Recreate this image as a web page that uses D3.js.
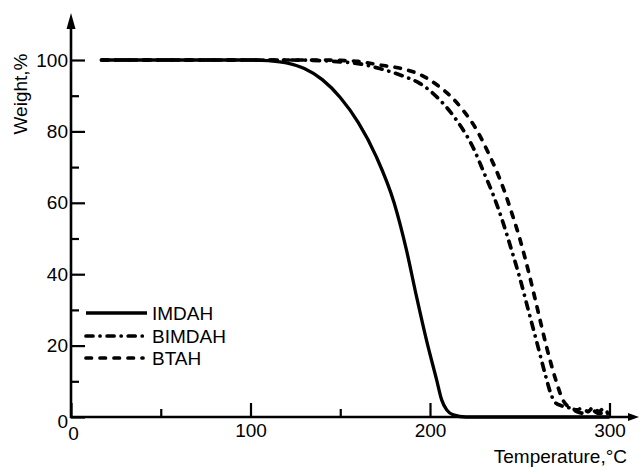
<!DOCTYPE html>
<html>
<head>
<meta charset="utf-8">
<script src="https://cdn.jsdelivr.net/npm/d3@7"></script>
<style>
  html, body { margin: 0; padding: 0; background: #fff; }
  svg { display: block; }
  text { font-family: "Liberation Sans", Arial, sans-serif; fill: #000; }
</style>
</head>
<body>
<svg id="chart" width="640" height="468"></svg>
<script>
// Thermogravimetric curves: weight (%) versus temperature (°C)
const imdahT = [17, 100, 110, 120, 130, 140, 150, 160, 170, 180, 187, 192.5, 198, 203.7, 206.5, 209.3, 213, 220, 300];
const imdahW = [100, 100, 99.8, 99.2, 97.6, 94.5, 89.5, 82.5, 73, 60, 46.5, 33.7, 21.6, 10.4, 4.8, 2, 0.6, 0, 0];

const bimdahT = [17, 120, 140, 150, 160, 172, 185, 194.5, 205.5, 215, 224, 230, 235, 240, 245, 250, 255, 260, 264, 267, 269.5, 273, 278, 282, 286, 290, 294, 298];
const bimdahW = [100, 100, 99.8, 99.5, 99, 97.6, 95.5, 93.4, 88.8, 83, 75.5, 68.5, 62.5, 55.5, 47.5, 39, 29.5, 20, 12.3, 7, 4.2, 3.2, 2.5, 1.5, 1, 2, 1, 1.5];

const btahT = [17, 140, 150, 160, 172, 185, 195, 205, 212, 218, 226, 232, 237, 242, 245, 250, 255, 260, 265, 270, 274, 278, 282, 285, 288, 291, 294, 297, 299];
const btahW = [100, 100, 99.9, 99.6, 98.6, 97.5, 95.8, 92.6, 89.6, 86.2, 80.4, 74.5, 69, 62.5, 58, 50, 40.5, 30, 19.5, 10.5, 4.8, 2.6, 2, 2.6, 1.5, 2.8, 1.5, 2.5, 1];

const seriesNames = ["IMDAH", "BIMDAH", "BTAH"];
const xMajorTicks = [0, 100, 200, 300];
const xMinorTicks = [50, 150];
const yMajorTicks = [0, 20, 40, 60, 80, 100];
const yMinorTicks = [10, 30, 50, 70, 90];

const series = [
  { name: seriesNames[0], t: imdahT, w: imdahW, dash: null, width: 3.3 },
  { name: seriesNames[1], t: bimdahT, w: bimdahW, dash: "7,7,0.1,7", width: 3.7 },
  { name: seriesNames[2], t: btahT, w: btahW, dash: "5.5,8.5", width: 3.7 }
];

const svg = d3.select("#chart");
const x = d3.scaleLinear().domain([0, 300]).range([71, 609.5]);
const y = d3.scaleLinear().domain([0, 100]).range([417, 60]);

const fontSize = 19;

// Axes: inward ticks, labels outside
const gx = svg.append("g").attr("transform", `translate(0,${y(0)})`)
  .call(d3.axisBottom(x).tickValues(xMajorTicks).tickSize(-14).tickPadding(7).tickFormat(d3.format("d")));
svg.append("g").attr("transform", `translate(0,${y(0)})`)
  .call(d3.axisBottom(x).tickValues(xMinorTicks).tickSize(-8).tickFormat(""));
const gy = svg.append("g").attr("transform", `translate(${x(0)},0)`)
  .call(d3.axisLeft(y).tickValues(yMajorTicks).tickSize(-14).tickPadding(3).tickFormat(d3.format("d")));
svg.append("g").attr("transform", `translate(${x(0)},0)`)
  .call(d3.axisLeft(y).tickValues(yMinorTicks).tickSize(-8).tickFormat(""));

svg.selectAll(".domain").remove();
svg.selectAll(".tick line").attr("stroke", "#000").attr("stroke-width", 2.2);
svg.selectAll(".tick text").attr("font-size", fontSize)
  .attr("font-family", "Liberation Sans, Arial, sans-serif").attr("fill", "#000");
gy.selectAll(".tick text").filter(d => d === 0).attr("dy", "0.55em");
gx.selectAll(".tick text").filter(d => d === 0).attr("dx", "0.1em").attr("dy", "0.85em");

// Axis lines with arrow heads
const x0 = x(0), y0 = y(0);
const yTop = 13, xEnd = 639;
svg.append("line").attr("x1", x0).attr("y1", y0 + 1).attr("x2", x0).attr("y2", yTop + 10)
  .attr("stroke", "#000").attr("stroke-width", 2.6);
svg.append("line").attr("x1", x0 - 1).attr("y1", y0).attr("x2", xEnd - 8).attr("y2", y0)
  .attr("stroke", "#000").attr("stroke-width", 2.6);
svg.append("path").attr("d", `M${x0},${yTop} L${x0 - 4.5},${yTop + 16} L${x0 + 4.5},${yTop + 16} Z`).attr("fill", "#000");
svg.append("path").attr("d", `M${xEnd},${y0} L${xEnd - 11},${y0 - 4} L${xEnd - 11},${y0 + 4} Z`).attr("fill", "#000");

// Curves
const line = d3.line().x(d => x(d[0])).y(d => y(d[1])).curve(d3.curveMonotoneX);
series.slice().reverse().forEach(s => {
  const pts = s.t.map((t, i) => [t, s.w[i]]);
  svg.append("path").datum(pts)
    .attr("d", line)
    .attr("fill", "none")
    .attr("stroke", "#000")
    .attr("stroke-width", s.width)
    .attr("stroke-linecap", s.dash ? "round" : "butt")
    .attr("stroke-linejoin", "round")
    .attr("stroke-dasharray", s.dash);
});

// Legend
const legendRows = [313, 336, 358];
const legend = svg.append("g");
series.forEach((s, i) => {
  legend.append("line")
    .attr("x1", 86).attr("x2", i === 2 ? 143 : 147)
    .attr("y1", legendRows[i]).attr("y2", legendRows[i])
    .attr("stroke", "#000").attr("stroke-width", s.width)
    .attr("stroke-linecap", s.dash ? "round" : "butt")
    .attr("stroke-dasharray", s.dash);
  legend.append("text")
    .attr("x", 152).attr("y", legendRows[i]).attr("dy", "0.36em")
    .attr("font-size", fontSize).text(s.name);
});

// Axis titles
svg.append("text")
  .attr("transform", `translate(27,94) rotate(-90)`)
  .attr("text-anchor", "middle")
  .attr("font-size", fontSize)
  .text("Weight,%");
svg.append("text")
  .attr("x", 627).attr("y", 463)
  .attr("text-anchor", "end")
  .attr("font-size", fontSize)
  .text("Temperature,°C");
</script>
</body>
</html>
